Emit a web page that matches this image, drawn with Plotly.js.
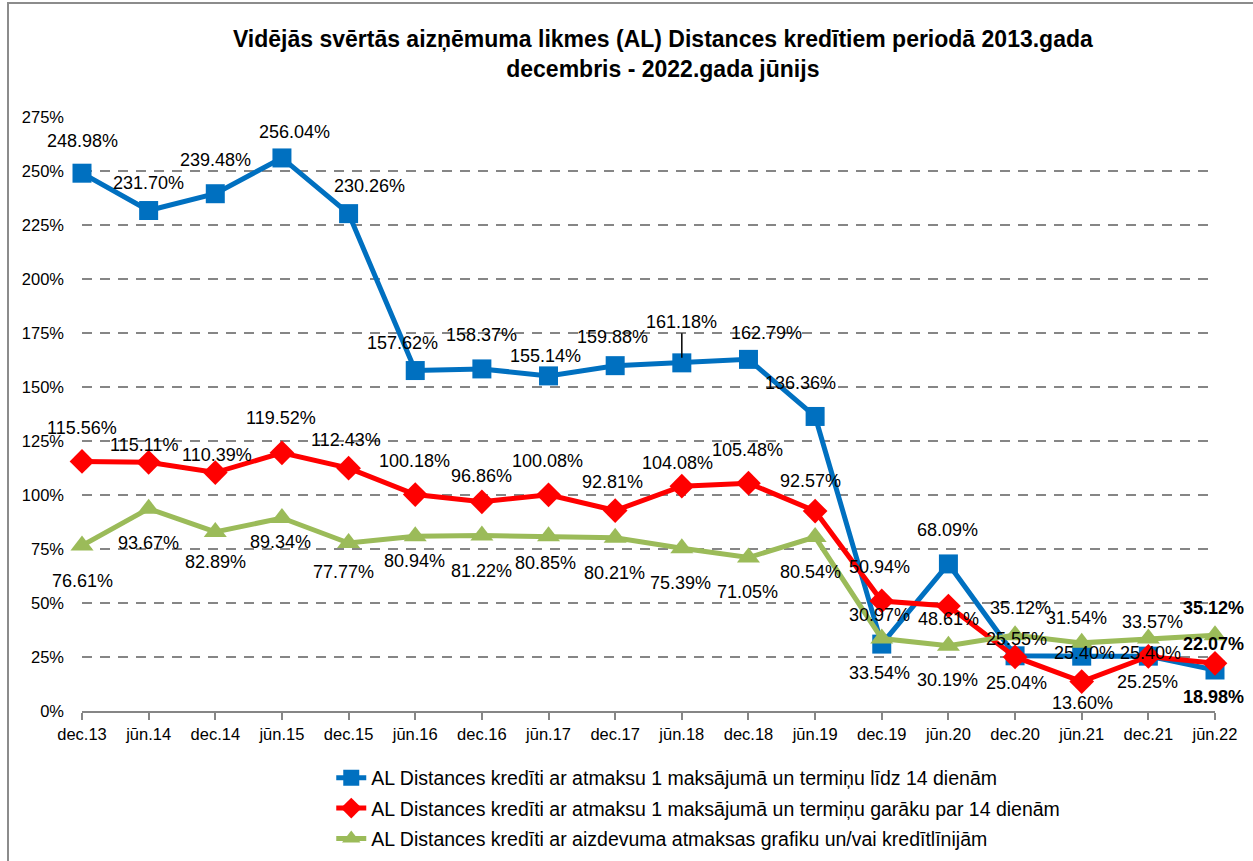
<!DOCTYPE html>
<html>
<head>
<meta charset="utf-8">
<script src="https://cdn.plot.ly/plotly-3.0.1.min.js"></script>
<style>
html,body{margin:0;padding:0;background:#fff;}
#chart{width:1253px;height:861px;position:absolute;left:0;top:0;}
#frame{position:absolute;left:7px;top:2px;width:1250px;height:862px;border:2px solid #8c8c8c;box-sizing:border-box;pointer-events:none;}
</style>
</head>
<body>
<div id="chart"></div>
<div id="frame"></div>
<script>
// ---- data ----
const categories = ["dec.13","jūn.14","dec.14","jūn.15","dec.15","jūn.16","dec.16","jūn.17","dec.17","jūn.18","dec.18","jūn.19","dec.19","jūn.20","dec.20","jūn.21","dec.21","jūn.22"];
const seriesNames = [
  "AL Distances kredīti ar atmaksu 1 maksājumā un termiņu līdz 14 dienām",
  "AL Distances kredīti ar atmaksu 1 maksājumā un termiņu garāku par 14 dienām",
  "AL Distances kredīti ar aizdevuma atmaksas grafiku un/vai kredītlīnijām"
];
const blueValues  = [248.98,231.70,239.48,256.04,230.26,157.62,158.37,155.14,159.88,161.18,162.79,136.36,30.97,68.09,25.55,25.40,25.40,18.98];
const redValues   = [115.56,115.11,110.39,119.52,112.43,100.18,96.86,100.08,92.81,104.08,105.48,92.57,50.94,48.61,25.04,13.60,25.25,22.07];
const greenValues = [76.61,93.67,82.89,89.34,77.77,80.94,81.22,80.85,80.21,75.39,71.05,80.54,33.54,30.19,35.12,31.54,33.57,35.12];
const yTickVals = [0,25,50,75,100,125,150,175,200,225,250,275];
const yTickText = ["0%","25%","50%","75%","100%","125%","150%","175%","200%","225%","250%","275%"];

// ---- label offsets (pixels: dx right, dy down) ----
const blueOff  = [[0,-32],[0,-28],[0,-34],[13,-26],[21,-28],[-13,-28],[0,-34],[-3,-20],[-3,-29],[0,-41],[18,-26],[-15,-33],[-2,-29],[-1,-34],[1,-17],[3,-3],[2,-3],[-2,27]];
const redOff   = [[0,-33],[-5,-17],[2,-18],[-1,-35],[-3,-28],[-1,-34],[0,-26],[-1,-34],[-3,-29],[-4,-23],[-1,-33],[-5,-30],[-2,-34],[0,13],[1,26],[1,21],[-1,26],[-2,-19]];
const greenOff = [[0,35],[0,34],[0,30],[-1,24],[-5,29],[-1,25],[0,35],[-3,27],[-1,35],[-1,35],[-1,34],[-5,35],[-2,34],[-1,34],[5,-27],[-5,-25],[4,-16],[-2,-27]];

const FONT = "Liberation Sans, Arial, sans-serif";
const colors = ["#0070C0","#FF0000","#9BBB59"];
const symbols = ["square","diamond","triangle-up"];
const msizes = [19,19,20];
const allVals = [blueValues, redValues, greenValues];
const allOff = [blueOff, redOff, greenOff];

const traces = allVals.map((vals, k) => ({
  type: "scatter",
  mode: "lines+markers",
  x: categories,
  y: vals,
  name: seriesNames[k],
  legendgroup: "g" + k,
  line: {color: colors[k], width: 5},
  marker: {color: colors[k], symbol: symbols[k], size: msizes[k]},
  cliponaxis: false,
  hoverinfo: "x+y"
}));

const annotations = [];
allVals.forEach((vals, k) => {
  vals.forEach((v, i) => {
    const last = i === vals.length - 1;
    const txt = v.toFixed(2) + "%";
    const off = allOff[k][i];
    const a = {
      x: categories[i], y: v, xref: "x", yref: "y",
      text: last ? "<b>" + txt + "</b>" : txt,
      showarrow: false,
      xshift: off[0], yshift: -off[1],
      font: {family: FONT, size: 18, color: "#000"}
    };
    if (k === 0 && i === 9) {
      a.showarrow = true;
      a.arrowhead = 0;
      a.arrowwidth = 1.5;
      a.arrowcolor = "#000";
      a.ax = 0; a.ay = off[1];
      a.xshift = 0; a.yshift = 0;
      a.standoff = 5;
    }
    annotations.push(a);
  });
});

const layout = {
  width: 1253, height: 861,
  margin: {l: 82, r: 38, t: 117, b: 150, autoexpand: false},
  paper_bgcolor: "#fff",
  plot_bgcolor: "#fff",
  font: {family: FONT, size: 17, color: "#000"},
  title: {
    text: "<b>Vidējās svērtās aizņēmuma likmes (AL) Distances kredītiem periodā 2013.gada<br>decembris - 2022.gada jūnijs</b>",
    font: {family: FONT, size: 23, color: "#000"},
    x: 0.529, xanchor: "center",
    y: 0.945, yanchor: "top", yref: "container"
  },
  xaxis: {
    type: "category",
    range: [0, categories.length - 1],
    showline: true, linecolor: "#868686", linewidth: 2,
    ticks: "outside", ticklen: 7, tickcolor: "#868686", tickwidth: 2,
    showgrid: false, zeroline: false,
    tickfont: {family: FONT, size: 16.5, color: "#000"}
  },
  yaxis: {
    range: [0, 275],
    tickvals: yTickVals, ticktext: yTickText,
    showgrid: true, gridcolor: "#868686", gridwidth: 2, griddash: "10px,8px",
    zeroline: false, showline: false, ticks: "",
    ticklabelstandoff: 17,
    tickfont: {family: FONT, size: 16.5, color: "#000"}
  },
  showlegend: true,
  legend: {
    orientation: "v",
    x: 0.22, xanchor: "left",
    y: 0.119, yanchor: "top", yref: "container",
    tracegroupgap: 2,
    font: {family: FONT, size: 19.5, color: "#000"},
    bgcolor: "rgba(0,0,0,0)"
  },
  annotations: annotations
};

Plotly.newPlot("chart", traces, layout, {displayModeBar: false, responsive: false});
</script>
</body>
</html>
